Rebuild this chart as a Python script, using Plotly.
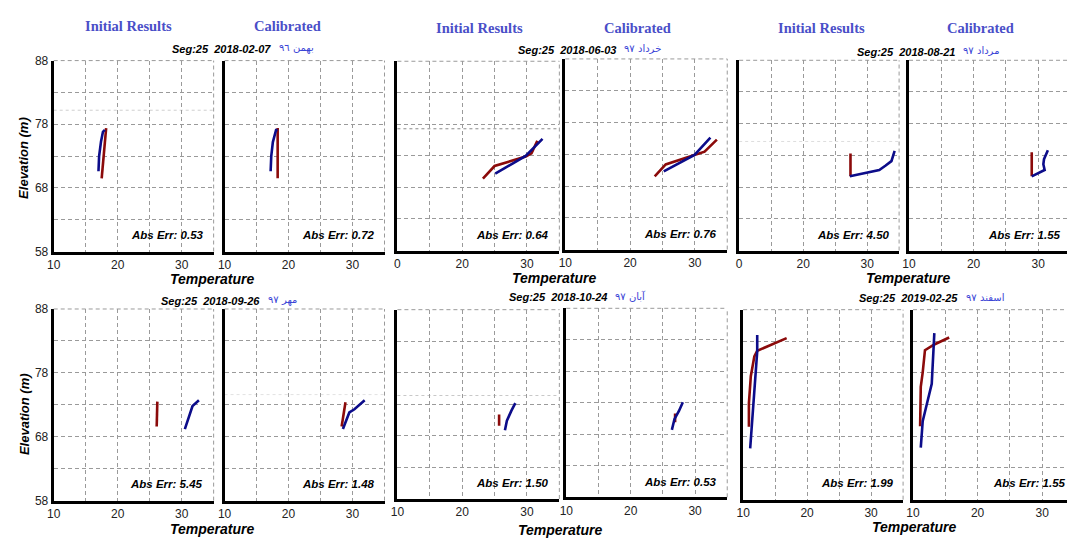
import plotly.graph_objects as go

W, H = 1067, 542

# ---- data: temperature (°C) vs elevation (m) profiles, Seg:25 ----
dates = ["2018-02-07", "2018-06-03", "2018-08-21", "2018-09-26", "2018-10-24", "2019-02-25"]
months_fa = ["بهمن ٩٦", "خرداد ٩٧", "مرداد ٩٧", "مهر ٩٧", "آبان ٩٧", "اسفند ٩٧"]
abs_err = ["0.53", "0.72", "0.64", "0.76", "4.50", "1.55",
           "5.45", "1.48", "1.50", "0.53", "1.99", "1.55"]

# measured (red) and simulated (blue) profiles per panel: initial / calibrated
red_t = [
    [17.5, 17.8, 18.2], [18.3, 18.3],
    [23.2, 25.0, 29.8, 30.7, 31.6], [23.8, 25.5, 29.7, 31.5, 33.4],
    [27.4, 27.4], [29.0, 29.0],
    [26.2, 26.1], [28.3, 28.9],
    [25.7, 25.7], [26.9, 26.9],
    [10.9, 10.9, 11.2, 11.75, 12.2, 16.8], [11.1, 11.2, 11.5, 11.85, 13.3, 15.6],
]
red_z = [
    [69.5, 73.0, 77.4], [69.5, 77.4],
    [69.4, 71.4, 72.9, 73.4, 75.4], [69.5, 71.4, 72.8, 73.4, 75.3],
    [73.3, 69.7], [73.5, 69.7],
    [73.5, 69.6], [69.6, 73.4],
    [71.4, 69.6], [71.3, 69.9],
    [69.5, 73.2, 77.5, 80.6, 81.5, 83.5], [69.6, 75.8, 78.1, 81.6, 82.5, 83.6],
]
blue_t = [
    [17.0, 17.1, 17.4, 17.7, 18.0], [17.2, 17.3, 17.55, 18.05, 18.3],
    [25.1, 29.8, 32.4], [25.2, 29.95, 32.4],
    [27.3, 31.9, 32.9, 33.8, 34.3], [29.0, 31.0, 30.8, 30.9, 31.5],
    [30.5, 31.7, 32.7], [28.5, 29.5, 30.3, 31.9],
    [26.6, 26.9, 27.6, 28.2], [26.4, 26.8, 27.5, 28.1],
    [11.1, 11.5, 12.2, 12.2], [11.2, 11.5, 12.9, 13.3],
]
blue_z = [
    [70.6, 73.0, 75.3, 76.8, 77.1], [70.6, 73.0, 75.2, 77.1, 77.1],
    [70.2, 73.0, 75.7], [70.3, 72.9, 75.6],
    [69.7, 70.7, 71.4, 72.1, 73.7], [69.7, 70.7, 71.6, 72.4, 73.8],
    [69.2, 72.8, 73.7], [69.2, 71.8, 72.3, 73.7],
    [68.9, 70.4, 72.0, 73.2], [68.7, 70.4, 71.7, 73.1],
    [66.1, 71.2, 81.4, 84.0], [66.2, 70.4, 76.3, 84.3],
]
# faint dotted reference levels (panel index, elevation)
ref_levels = [(0, 80.2, "#cfcfcf"), (2, 77.3, "#8a8a8a"), (4, 75.2, "#dddddd"),
              (7, 74.6, "#e2e2e2"), (8, 74.4, "#c8c8c8")]

x_ticks = [10, 15, 20, 25, 30, 35]
y_ticks = [58, 63, 68, 73, 78, 83, 88]

# ---- panel frames in page pixels: left, right, top, bottom ----
frames = [
    (47, 208, 55, 251), (219, 380, 55, 251),
    (393, 556, 55.7, 250), (562, 725, 53.3, 249),
    (737, 898, 54.7, 250), (908, 1070.5, 54.7, 250),
    (47, 208, 310, 506.7), (219, 380, 310, 506.7),
    (393, 556, 310.7, 505), (563, 725, 309.3, 503.3),
    (741, 902, 310.7, 505.7), (912, 1074.5, 310.7, 505.7),
]
first_label = ["10", "10", "0", "10", "0", "10", "10", "10", "10", "10", "10", "10"]
err_pos = [(162, 234), (334, 234), (509, 234), (678, 233), (852, 234), (1024, 234),
           (161, 490), (334, 490), (509, 489), (678, 488), (856, 489), (1029, 489)]

RED = "#8b0a0a"
BLUE = "#0c0c8a"
GRID = "#9a9a9a"
TITLE_BLUE = "#4a4fc8"
SANS = "Liberation Sans, Arial, sans-serif"


def px(x):
    return min(max(x / W, 0.0), 1.0)


def py(y):
    return min(max(1 - y / H, 0.0), 1.0)


fig = go.Figure()
layout = dict(
    margin=dict(l=0, r=0, t=0, b=0), autosize=True,
    paper_bgcolor="white", plot_bgcolor="white", showlegend=False,
)
shapes = []
annotations = []

for i, (l, r, t, b) in enumerate(frames):
    n = i + 1
    xa = "x" if n == 1 else f"x{n}"
    ya = "y" if n == 1 else f"y{n}"
    # panels reaching past the page edge are cut there
    r_vis = min(r, W)
    xmax = 10 + 25 * (r_vis - l) / (r - l)
    fig.add_trace(go.Scatter(x=red_t[i], y=red_z[i], mode="lines", xaxis=xa, yaxis=ya,
                             line=dict(color=RED, width=2.6)))
    fig.add_trace(go.Scatter(x=blue_t[i], y=blue_z[i], mode="lines", xaxis=xa, yaxis=ya,
                             line=dict(color=BLUE, width=2.6)))
    xkey = "xaxis" if n == 1 else f"xaxis{n}"
    ykey = "yaxis" if n == 1 else f"yaxis{n}"
    layout[xkey] = dict(
        domain=[px(l), px(r_vis)], range=[10, xmax], anchor=ya,
        tickvals=x_ticks, ticktext=[first_label[i], "", "20", "", "30", ""],
        showgrid=True, gridcolor=GRID, griddash="4px,3px", gridwidth=1,
        showline=True, linecolor="black", linewidth=3, zeroline=False,
        ticks="", tickfont=dict(family=SANS, size=12, color="#222"),
        fixedrange=True,
    )
    show_y = i in (0, 6)
    layout[ykey] = dict(
        domain=[py(b), py(t)], range=[58, 88], anchor=xa,
        tickvals=y_ticks, ticktext=["58", "", "68", "", "78", "", "88"],
        showticklabels=show_y,
        showgrid=True, gridcolor=GRID, griddash="4px,3px", gridwidth=1,
        showline=True, linecolor="black", linewidth=3, zeroline=False,
        ticks="", tickfont=dict(family=SANS, size=12, color="#222"),
        fixedrange=True,
    )
    # dashed top / right frame
    shapes.append(dict(type="line", xref=f"{xa} domain", yref=f"{ya} domain",
                       x0=0, x1=1, y0=1, y1=1,
                       line=dict(color=GRID, width=1, dash="4px,3px")))
    if r <= W:
        shapes.append(dict(type="line", xref=f"{xa} domain", yref=f"{ya} domain",
                           x0=1, x1=1, y0=0, y1=1,
                           line=dict(color=GRID, width=1, dash="4px,3px")))
    # error label
    ex, ey = err_pos[i]
    annotations.append(dict(
        xref="paper", yref="paper", x=px(ex), y=py(ey),
        xanchor="center", yanchor="middle", showarrow=False,
        text=f"Abs Err: {abs_err[i]}",
        font=dict(family=SANS, size=11.5, color="black", weight="bold", style="italic"),
    ))

for idx, z, col in ref_levels:
    n = idx + 1
    xa = "x" if n == 1 else f"x{n}"
    ya = "y" if n == 1 else f"y{n}"
    shapes.append(dict(type="line", xref=f"{xa} domain", yref=ya, x0=0, x1=1, y0=z, y1=z,
                       line=dict(color=col, width=1, dash="dot"), layer="below"))

# column headings (top row)
for cx, cy, label in [(122, 20, "Initial Results"), (282, 20, "Calibrated"),
                      (476, 22, "Initial Results"), (635, 22, "Calibrated"),
                      (820, 22, "Initial Results"), (980, 22, "Calibrated")]:
    annotations.append(dict(
        xref="paper", yref="paper", x=px(cx), y=py(cy), xanchor="center", yanchor="middle",
        showarrow=False, text=label,
        font=dict(family="Liberation Serif, Times New Roman, serif", size=14.5,
                  color=TITLE_BLUE, weight="bold"),
    ))

# segment / date captions
caption_pos = [(268, 43), (615, 44), (956, 46), (257, 302), (606, 298), (959, 299)]
for k, (cx, cy) in enumerate(caption_pos):
    annotations.append(dict(
        xref="paper", yref="paper", x=px(cx), y=py(cy), xanchor="right", yanchor="middle",
        showarrow=False, text=f"Seg:25  {dates[k]}",
        font=dict(family=SANS, size=11, color="black", weight="bold", style="italic"),
    ))
    annotations.append(dict(
        xref="paper", yref="paper", x=px(cx + 4), y=py(cy - 1), xanchor="left",
        yanchor="middle", showarrow=False, text="\u202b" + months_fa[k] + "\u202c",
        font=dict(family="DejaVu Sans, sans-serif", size=10, color="#3a44d6"),
    ))

# axis titles
for cx, cy in [(207, 279), (551, 278), (907, 278), (207, 536), (557, 537), (913, 534)]:
    annotations.append(dict(
        xref="paper", yref="paper", x=px(cx), y=py(cy), xanchor="center", yanchor="middle",
        showarrow=False, text="Temperature",
        font=dict(family=SANS, size=14, color="black", weight="bold", style="italic"),
    ))
for cy in [155, 418]:
    annotations.append(dict(
        xref="paper", yref="paper", x=px(17), y=py(cy), xanchor="center", yanchor="middle",
        showarrow=False, text="Elevation (m)", textangle=-90,
        font=dict(family=SANS, size=13, color="black", weight="bold", style="italic"),
    ))

layout["shapes"] = shapes
layout["annotations"] = annotations
fig.update_layout(**layout)
fig.write_html("out.html")
